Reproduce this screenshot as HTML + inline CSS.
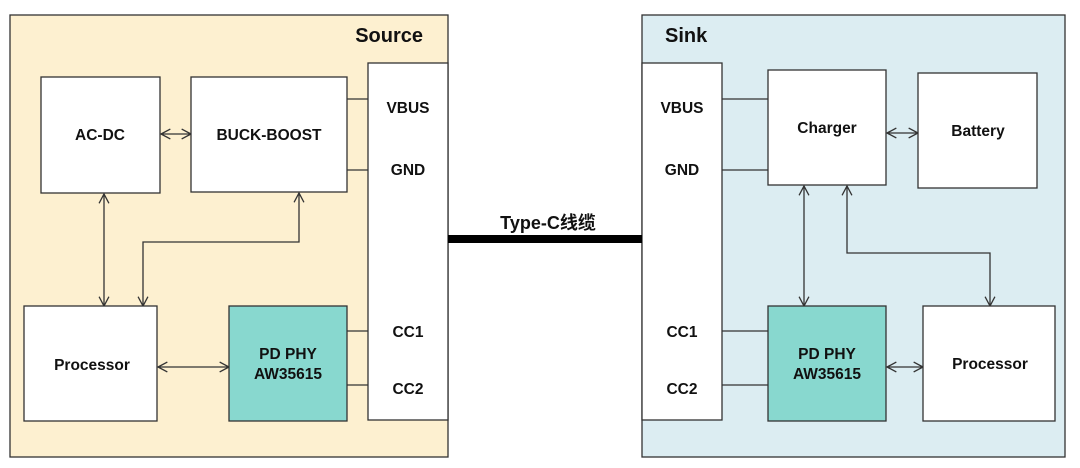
<!DOCTYPE html>
<html><head><meta charset="utf-8"><style>
html,body{margin:0;padding:0;background:#fff;width:1080px;height:468px;overflow:hidden}
text{font-family:"Liberation Sans","Noto Sans CJK SC",sans-serif;font-weight:bold;fill:#111}
</style></head><body>
<svg width="1080" height="468" xmlns="http://www.w3.org/2000/svg">
<defs>
<marker id="a" viewBox="0 0 10 10" refX="9.5" refY="5" markerWidth="11" markerHeight="11" orient="auto-start-reverse" markerUnits="userSpaceOnUse">
<path d="M1,0.5 L9.5,5 L1,9.5" fill="none" stroke="#333" stroke-width="1.2"/></marker>
</defs>
<g stroke="#333" stroke-width="1.3">
<rect x="10" y="15" width="438" height="442" fill="#fdf0d0"/>
<rect x="642" y="15" width="423" height="442" fill="#dcedf2"/>
<rect x="368" y="63" width="80" height="357" fill="#fff"/>
<rect x="642" y="63" width="80" height="357" fill="#fff"/>
<rect x="41" y="77" width="119" height="116" fill="#fff"/>
<rect x="191" y="77" width="156" height="115" fill="#fff"/>
<rect x="24" y="306" width="133" height="115" fill="#fff"/>
<rect x="229" y="306" width="118" height="115" fill="#88d8cf"/>
<rect x="768" y="70" width="118" height="115" fill="#fff"/>
<rect x="918" y="73" width="119" height="115" fill="#fff"/>
<rect x="768" y="306" width="118" height="115" fill="#88d8cf"/>
<rect x="923" y="306" width="132" height="115" fill="#fff"/>
<g fill="none">
<path d="M347 99H368M347 170H368M347 331H368M347 385H368"/>
<path d="M722 99H768M722 170H768M722 331H768M722 385H768"/>
<path d="M161 134H191" marker-start="url(#a)" marker-end="url(#a)"/>
<path d="M104 194V306" marker-start="url(#a)" marker-end="url(#a)"/>
<path d="M299 193V242H143V306" marker-start="url(#a)" marker-end="url(#a)"/>
<path d="M158 367H229" marker-start="url(#a)" marker-end="url(#a)"/>
<path d="M887 133H918" marker-start="url(#a)" marker-end="url(#a)"/>
<path d="M804 186V306" marker-start="url(#a)" marker-end="url(#a)"/>
<path d="M847 186V253H990V306" marker-start="url(#a)" marker-end="url(#a)"/>
<path d="M887 367H923" marker-start="url(#a)" marker-end="url(#a)"/>
</g>
</g>
<rect x="448" y="235" width="194" height="8" fill="#000"/>
<text x="423" y="42" font-size="20" text-anchor="end">Source</text>
<text x="665" y="42" font-size="20">Sink</text>
<text x="548" y="229" font-size="18" text-anchor="middle">Type-C线缆</text>
<g font-size="15.5" text-anchor="middle">
<text x="100" y="140">AC-DC</text>
<text x="269" y="140">BUCK-BOOST</text>
<text x="92" y="370">Processor</text>
<text x="288" y="359">PD PHY</text>
<text x="288" y="379">AW35615</text>
<text x="408" y="113">VBUS</text>
<text x="408" y="175">GND</text>
<text x="408" y="337">CC1</text>
<text x="408" y="394">CC2</text>
<text x="682" y="113">VBUS</text>
<text x="682" y="175">GND</text>
<text x="682" y="337">CC1</text>
<text x="682" y="394">CC2</text>
<text x="827" y="133">Charger</text>
<text x="978" y="136">Battery</text>
<text x="827" y="359">PD PHY</text>
<text x="827" y="379">AW35615</text>
<text x="990" y="369">Processor</text>
</g>
</svg>
</body></html>
